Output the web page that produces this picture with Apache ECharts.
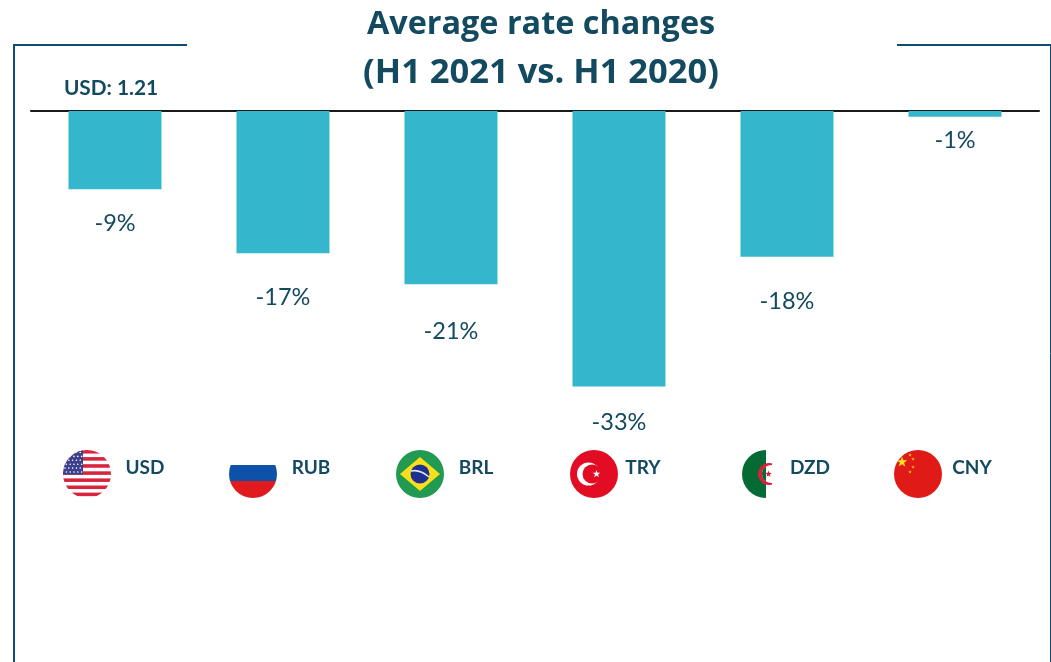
<!DOCTYPE html>
<html>
<head>
<meta charset="utf-8">
<style>html,body{margin:0;padding:0;background:#fff}#c{width:1051px;height:662px}</style>
<script src="https://cdn.jsdelivr.net/npm/echarts@6/dist/echarts.min.js"></script>
</head>
<body>
<div id="c"></div>
<script>
var categories = ['USD', 'RUB', 'BRL', 'TRY', 'DZD', 'CNY'];
var values = [-9.4, -17.1, -20.8, -33.1, -17.5, -0.7];
var valueLabels = ['-9%', '-17%', '-21%', '-33%', '-18%', '-1%'];
var titleLines = ['Average rate changes', '(H1 2021 vs. H1 2020)'];
var rateNote = 'USD: 1.21';

var labelGaps = [22, 32, 35, 24, 33, 12];
var flagCenters = [87, 253, 420, 594, 766, 918];
var codeCenters = [145, 311, 476, 643, 810, 972];

function flagSvg(inner) {
  var s = '<svg xmlns="http://www.w3.org/2000/svg" width="192" height="192" viewBox="0 0 48 48">' +
    '<defs><clipPath id="k"><circle cx="24" cy="24" r="24"/></clipPath></defs>' +
    '<g clip-path="url(#k)">' + inner + '</g></svg>';
  return 'data:image/svg+xml;charset=utf-8,' + encodeURIComponent(s);
}
function usFlag() {
  var out = '<rect width="48" height="48" fill="#fff"/>';
  for (var i = 0; i < 7; i++) out += '<rect y="' + (i * 7.1) + '" width="48" height="3.55" fill="#d8243c"/>';
  out += '<rect width="20" height="24.5" fill="#3c3f8c"/>';
  for (var r = 0; r < 6; r++) for (var c = 0; c < 5; c++)
    out += '<circle cx="' + (2 + c * 3.8 + (r % 2) * 1.4) + '" cy="' + (2.5 + r * 3.9) + '" r="0.8" fill="#fff"/>';
  return out;
}
var star = function (x, y, r, fill) {
  var p = [];
  for (var i = 0; i < 10; i++) {
    var a = -Math.PI / 2 + i * Math.PI / 5, q = i % 2 ? r * 0.4 : r;
    p.push((x + q * Math.cos(a)).toFixed(2) + ',' + (y + q * Math.sin(a)).toFixed(2));
  }
  return '<polygon points="' + p.join(' ') + '" fill="' + fill + '"/>';
};
var flags = [
  usFlag(),
  '<rect width="48" height="48" fill="#fff"/><rect y="15" width="48" height="16" fill="#0d52a8"/><rect y="31" width="48" height="17" fill="#e01a1e"/>',
  '<rect width="48" height="48" fill="#229a52"/><polygon points="24,7 44,24 24,41 4,24" fill="#fbdf1a"/><circle cx="24" cy="24" r="9.5" fill="#1d2f8f"/><path d="M15 21 Q24 19 33 27" stroke="#dfe6ee" stroke-width="1.6" fill="none"/>',
  '<rect width="48" height="48" fill="#e20d24"/><circle cx="18.5" cy="24" r="11.5" fill="#fff"/><circle cx="22" cy="24" r="9.5" fill="#e20d24"/>' + star(26.5, 24, 4, '#fff'),
  '<rect width="24" height="48" fill="#056b35"/><rect x="24" width="24" height="48" fill="#fff"/><circle cx="27" cy="24" r="11" fill="#d91f3a"/><circle cx="29" cy="24" r="9" fill="#fff"/><path d="M24 16.52 A9 9 0 0 0 24 31.48 Z" fill="#056b35"/>' + star(26.5, 24, 3.5, '#d91f3a') + '<rect x="30" width="18" height="48" fill="#fff"/>',
  '<rect width="48" height="48" fill="#e01b17"/>' + star(8, 12, 5.5, '#fbe31a') + star(16, 5, 1.9, '#f5c518') + star(19, 9, 1.9, '#f5c518') + star(19, 17, 1.9, '#f5c518') + star(16, 22, 1.9, '#f5c518')
];

var INK = '#134a60';
var FRAME = '#0f4a70';
var graphics = [
  { type: 'line', silent: true, shape: { x1: 14, y1: 45, x2: 14, y2: 662 }, style: { stroke: FRAME, lineWidth: 2 } },
  { type: 'line', silent: true, shape: { x1: 13, y1: 45, x2: 187, y2: 45 }, style: { stroke: FRAME, lineWidth: 2 } },
  { type: 'line', silent: true, shape: { x1: 897, y1: 45, x2: 1051, y2: 45 }, style: { stroke: FRAME, lineWidth: 2 } },
  { type: 'line', silent: true, shape: { x1: 1050.5, y1: 45, x2: 1050.5, y2: 662 }, style: { stroke: FRAME, lineWidth: 1 } },
  { type: 'text', x: 541, y: 25, style: { text: titleLines[0], font: '700 32.4px "Open Sans"', fill: INK, textAlign: 'center', textVerticalAlign: 'middle' } },
  { type: 'text', x: 541, y: 73, style: { text: titleLines[1], font: '700 34.5px "Open Sans"', fill: INK, textAlign: 'center', textVerticalAlign: 'middle' } },
  { type: 'text', x: 111, y: 88, style: { text: rateNote, font: '700 20.8px Lato', fill: INK, textAlign: 'center', textVerticalAlign: 'middle' } }
];
categories.forEach(function (code, i) {
  graphics.push({ type: 'image', style: { image: flagSvg(flags[i]), x: flagCenters[i] - 24, y: 450, width: 48, height: 48 } });
  graphics.push({ type: 'text', x: codeCenters[i], y: 468, style: { text: code, font: '700 19px Lato', fill: INK, textAlign: 'center', textVerticalAlign: 'middle' } });
});

var chart = echarts.init(document.getElementById('c'), null, { renderer: 'canvas' });
chart.setOption({
  animation: false,
  backgroundColor: '#fff',
  grid: { left: 31, right: 12, top: 111, height: 333, containLabel: false },
  xAxis: {
    type: 'category', data: categories, position: 'top',
    axisLine: { show: true, lineStyle: { color: '#1a1a1a', width: 2 } },
    axisTick: { show: false }, axisLabel: { show: false }
  },
  yAxis: { type: 'value', min: -40, max: 0, show: false, splitLine: { show: false } },
  series: [{
    type: 'bar', barWidth: 93,
    itemStyle: { color: '#34b7cc' },
    data: values.map(function (v, i) {
      return {
        value: v,
        label: {
          show: true, position: 'bottom', distance: labelGaps[i],
          formatter: valueLabels[i], color: INK, fontFamily: 'Lato', fontSize: 23.5
        }
      };
    })
  }],
  graphic: graphics
});
</script>
</body>
</html>
